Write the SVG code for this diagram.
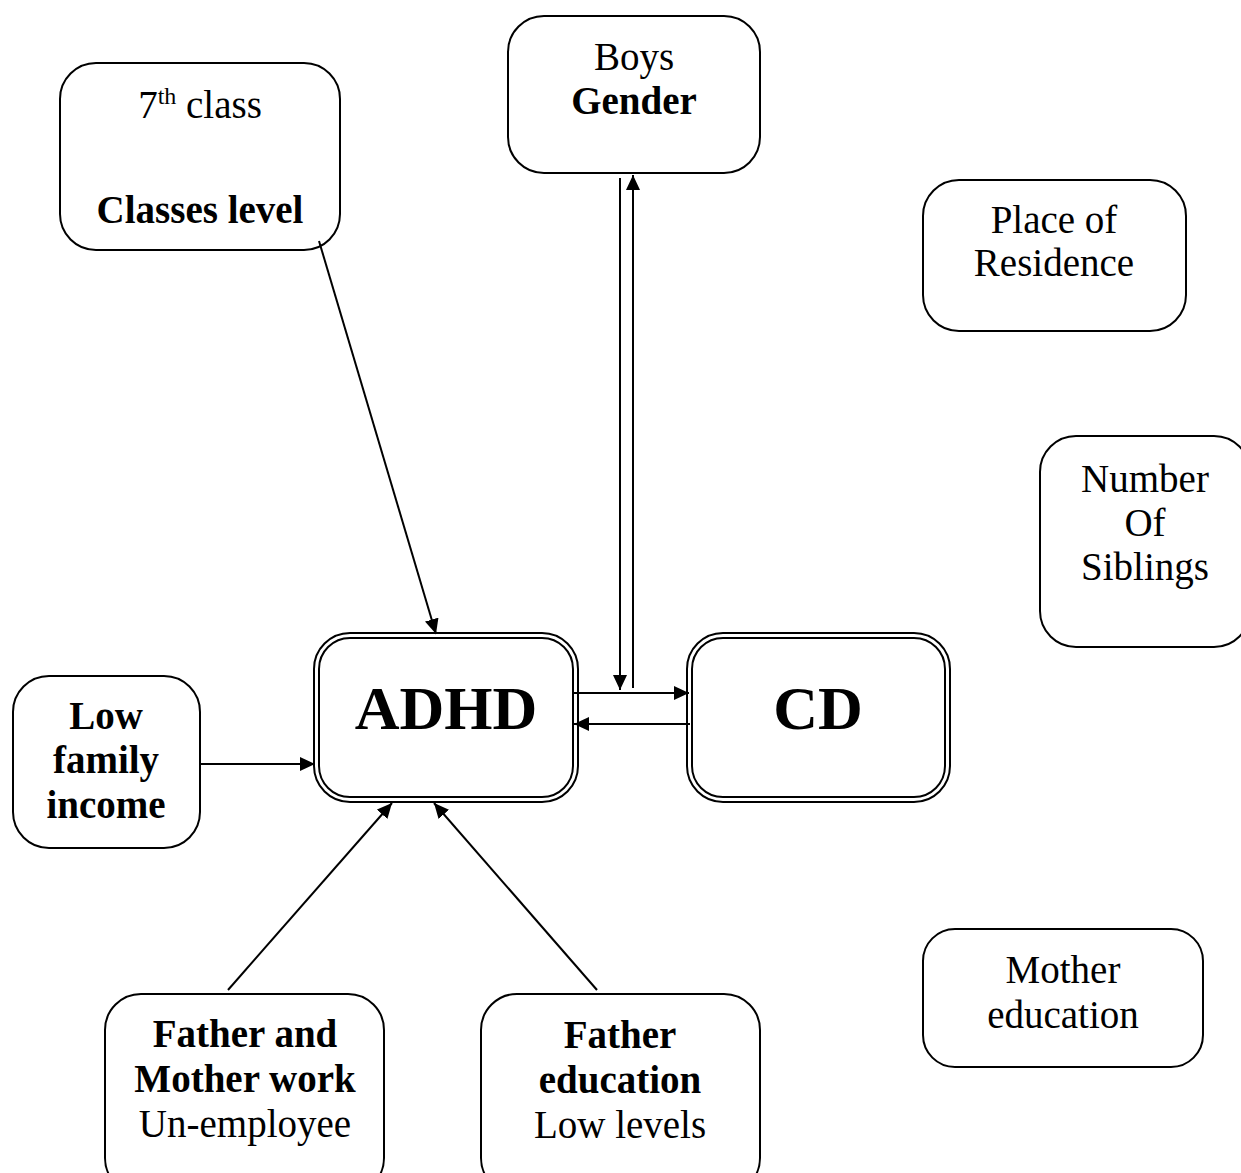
<svg xmlns="http://www.w3.org/2000/svg" width="1241" height="1173" viewBox="0 0 1241 1173">
<style>
.box{fill:#fff;stroke:#000;stroke-width:2}
.dbl{fill:none;stroke:#000;stroke-width:2}
.t{font-family:"Liberation Serif","Times New Roman",serif;font-size:39px;fill:#000;text-anchor:middle}
.b{font-weight:bold}
.big{font-family:"Liberation Serif","Times New Roman",serif;font-size:62px;font-weight:bold;fill:#000;text-anchor:middle}
.c{fill:none;stroke:#000;stroke-width:2}
</style>
<defs>
<marker id="ah" markerUnits="userSpaceOnUse" markerWidth="16" markerHeight="14" refX="15" refY="7" orient="auto">
<path d="M0,0 L15,7 L0,14 z" fill="#000"/>
</marker>
</defs>
<rect width="1241" height="1173" fill="#fff"/>
<g id="classes">
<rect class="box" x="60" y="63" width="280" height="187" rx="36"/>
<text class="t" x="200" y="118">7<tspan dy="-14" font-size="24">th</tspan><tspan dy="14"> class</tspan></text>
<text class="t b" x="200" y="223">Classes level</text>
</g>
<g id="gender">
<rect class="box" x="508" y="16" width="252" height="157" rx="36"/>
<text class="t" x="634" y="70">Boys</text>
<text class="t b" x="634" y="114">Gender</text>
</g>
<g id="residence">
<rect class="box" x="923" y="180" width="263" height="151" rx="36"/>
<text class="t" x="1054" y="233">Place of</text>
<text class="t" x="1054" y="276">Residence</text>
</g>
<g id="siblings">
<rect class="box" x="1040" y="436" width="210" height="211" rx="36"/>
<text class="t" x="1145" y="492">Number</text>
<text class="t" x="1145" y="536">Of</text>
<text class="t" x="1145" y="580">Siblings</text>
</g>
<g id="mother-education">
<rect class="box" x="923" y="929" width="280" height="138" rx="32"/>
<text class="t" x="1063" y="983">Mother</text>
<text class="t" x="1063" y="1028">education</text>
</g>
<g id="income">
<rect class="box" x="13" y="676" width="187" height="172" rx="36"/>
<text class="t b" x="106" y="729">Low</text>
<text class="t b" x="106" y="773">family</text>
<text class="t b" x="106" y="818">income</text>
</g>
<g id="adhd">
<rect class="dbl" x="314" y="633" width="264" height="169" rx="36"/>
<rect class="dbl" x="319" y="638" width="254" height="159" rx="31"/>
<text class="big" x="446" y="729">ADHD</text>
</g>
<g id="cd">
<rect class="dbl" x="687" y="633" width="263" height="169" rx="36"/>
<rect class="dbl" x="692" y="638" width="253" height="159" rx="31"/>
<text class="big" x="818" y="729">CD</text>
</g>
<g id="parents-work">
<rect class="box" x="105" y="994" width="279" height="200" rx="36"/>
<text class="t b" x="245" y="1047">Father and</text>
<text class="t b" x="245" y="1092">Mother work</text>
<text class="t" x="245" y="1137">Un-employee</text>
</g>
<g id="father-education">
<rect class="box" x="481" y="994" width="279" height="200" rx="36"/>
<text class="t b" x="620" y="1048">Father</text>
<text class="t b" x="620" y="1093">education</text>
<text class="t" x="620" y="1138">Low levels</text>
</g>
<g id="connectors">
<line class="c" x1="319" y1="241" x2="436" y2="634" marker-end="url(#ah)"/>
<line class="c" x1="620" y1="178" x2="620" y2="690" marker-end="url(#ah)"/>
<line class="c" x1="633" y1="688" x2="633" y2="175" marker-end="url(#ah)"/>
<line class="c" x1="574" y1="693" x2="689" y2="693" marker-end="url(#ah)"/>
<line class="c" x1="690" y1="724" x2="574" y2="724" marker-end="url(#ah)"/>
<line class="c" x1="200" y1="764" x2="315" y2="764" marker-end="url(#ah)"/>
<line class="c" x1="228" y1="990" x2="392" y2="803" marker-end="url(#ah)"/>
<line class="c" x1="597" y1="990" x2="434" y2="803" marker-end="url(#ah)"/>
</g>
</svg>
